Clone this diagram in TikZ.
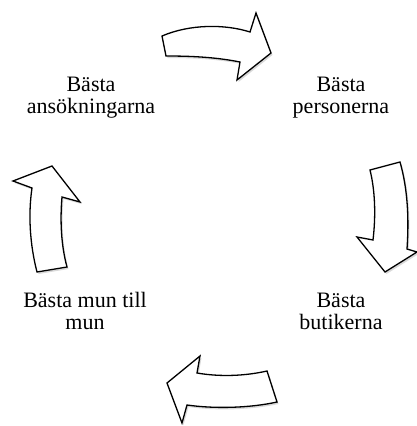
\documentclass[tikz,border=0pt]{standalone}
\usepackage{fontspec}
\setmainfont{Liberation Serif}
\usetikzlibrary{shadows}
\begin{document}
\begin{tikzpicture}[x=1pt,y=-1pt,
  arrowshape/.style={draw=black, line width=1.3pt, fill=white, line join=miter,
    drop shadow={shadow xshift=1.5pt, shadow yshift=-2pt, opacity=0.25, fill=black!60}},
  lbl/.style={font=\fontsize{22}{22}\selectfont, align=center, inner sep=0pt, anchor=base}]
\useasboundingbox (0,0) rectangle (417,426);
% top arrow
\path[arrowshape] (162,36) .. controls (190,24) and (225,24) .. (250,32)
  -- (256,13) -- (271,53) -- (237,80) -- (240,62)
  .. controls (215,57) and (190,56) .. (166,56) -- cycle;
% right arrow
\path[arrowshape] (400,162) .. controls (408,190) and (409,220) .. (407,249)
  -- (417,252) -- (385,272) -- (357,237) -- (373,240)
  .. controls (376,215) and (375,190) .. (370,170) -- cycle;
% bottom arrow
\path[arrowshape] (267,371) .. controls (245,376) and (220,377) .. (197,373)
  -- (200,356) -- (167,383) -- (182,423) -- (187,405)
  .. controls (215,409) and (250,408) .. (277,402) -- cycle;
% left arrow
\path[arrowshape] (67,267) .. controls (61,245) and (60,220) .. (62,197)
  -- (80,202) -- (52,166) -- (13,181) -- (32,188)
  .. controls (28,215) and (30,245) .. (37,272) -- cycle;
\node[lbl] (a) at (91,113) {Bästa\\ansökningarna};
\node[lbl] (b) at (341,113) {Bästa\\personerna};
\node[lbl] (c) at (341,329) {Bästa\\butikerna};
\node[lbl] (d) at (85,329) {Bästa mun till\\mun};
\end{tikzpicture}
\end{document}
